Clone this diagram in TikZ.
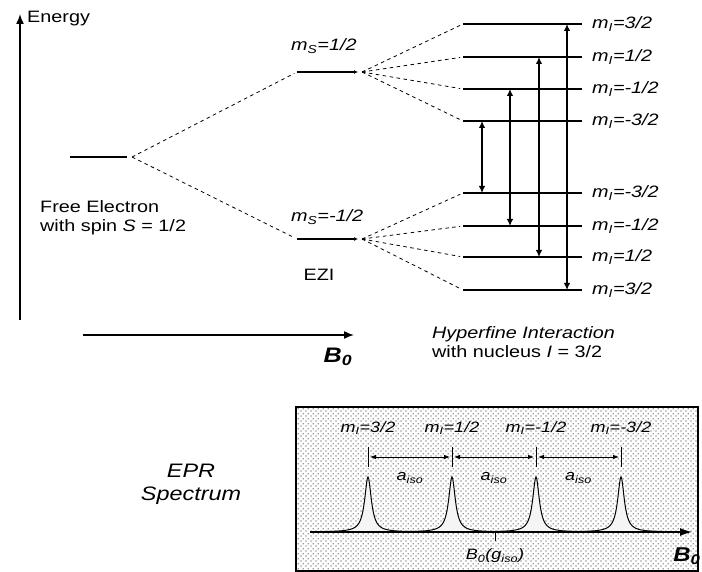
\documentclass[tikz,border=0pt]{standalone}
\usepackage{fontspec}
\setmainfont{Liberation Sans}[FakeStretch=1.2]
\usetikzlibrary{arrows.meta,patterns.meta,positioning}
\newcommand{\mI}[1]{\textit{m\textsubscript{I}=#1}}
\newcommand{\mS}[1]{\textit{m\textsubscript{S}=#1}}
\newcommand{\aiso}{\textit{a\textsubscript{iso}}}

\tikzdeclarepattern{
  name=stipple,
  type=uncolored,
  bounding box={(0pt,0pt) and (5pt,5pt)},
  tile size={(5pt,5pt)},
  code={
    \pgfpathcircle{\pgfqpoint{1.25pt}{1.25pt}}{0.75pt}
    \pgfpathcircle{\pgfqpoint{3.75pt}{3.75pt}}{0.75pt}
    \pgfusepath{fill}
  }
}

\begin{document}
\begin{tikzpicture}[x=1pt,y=-1pt,
  txt/.style={font=\fontsize{16.5}{19}\selectfont,inner sep=0pt},
  small/.style={font=\fontsize{15}{17}\selectfont,inner sep=0pt},
  level/.style={line width=1.5pt},
  fan/.style={line width=0.8pt,dash pattern=on 3.5pt off 3.5pt,shorten >=3pt},
  trans/.style={line width=1.3pt,
    {Latex[length=7pt,width=6.5pt]}-{Latex[length=7pt,width=6.5pt]}},
  axis/.style={line width=1.5pt,-{Latex[length=10pt,width=8pt]}},
  peak/.style={line width=1pt,fill=black!4},
  spacing/.style={line width=0.8pt,shorten <=2pt,shorten >=2pt,
    {Latex[length=6pt,width=4.5pt]}-{Latex[length=6pt,width=4.5pt]}},
  specbox/.style={draw,line width=1.2pt,preaction={fill=white},
    pattern=stipple,pattern color=black!80,minimum width=402pt,
    minimum height=164pt,inner sep=0pt}
]
\useasboundingbox (0,0) rectangle (702,572);

% energy and field axes
\coordinate (E0) at (20,320);
\coordinate (E1) at (20,14);
\draw[axis] (E0) -- (E1);
\node[txt,anchor=west] (energy) at (27,19) {Energy};
\coordinate (B0s) at (83,335);
\coordinate (B0e) at (354,335);
\draw[axis] (B0s) -- (B0e);
\node[font=\fontsize{21}{23}\selectfont\bfseries\itshape] (bzero) at (338,357)
  {B\textsubscript{0}};

% free electron
\coordinate (fe0) at (70,157);
\coordinate (fe1) at (127,157);
\coordinate (feR) at (132,157);
\draw[level] (fe0) -- (fe1);
\node[txt,align=left,anchor=west] (free) at (40,218)
  {Free Electron\\with spin \textit{S} = 1/2};

% electron Zeeman levels
\coordinate (up0) at (297,72);
\coordinate (up1) at (358,72);
\coordinate (upf) at (362,72);
\coordinate (dn0) at (297,239);
\coordinate (dn1) at (358,239);
\coordinate (dnf) at (362,239);
\draw[fan] (feR) -- (up0);
\draw[fan] (feR) -- (dn0);
\draw[line width=1.1pt,-{Latex[length=4pt,width=4pt]}] (up0) -- (up1);
\draw[line width=1.1pt,-{Latex[length=4pt,width=4pt]}] (dn0) -- (dn1);
\node[txt,anchor=west] (msup) at (291,46) {\mS{1/2}};
\node[txt,anchor=west] (msdn) at (291,217) {\mS{-1/2}};
\node[txt] (ezi) at (319,275) {EZI};

% hyperfine levels
\foreach \i/\y/\m in {1/24/{3/2},2/57/{1/2},3/89/{-1/2},4/121/{-3/2}}{
  \coordinate (hu\i) at (463,\y);
  \coordinate (hur\i) at (582,\y);
  \draw[level] (hu\i) -- (hur\i);
  \draw[fan] (upf) -- (hu\i);
  \node[txt,anchor=west,right=10pt of hur\i] (lu\i) {\mI{\m}};
}
\foreach \i/\y/\m in {1/193/{-3/2},2/226/{-1/2},3/257/{1/2},4/290/{3/2}}{
  \coordinate (hd\i) at (463,\y);
  \coordinate (hdr\i) at (582,\y);
  \draw[level] (hd\i) -- (hdr\i);
  \draw[fan] (dnf) -- (hd\i);
  \node[txt,anchor=west,right=10pt of hdr\i] (ld\i) {\mI{\m}};
}

% allowed transitions
\foreach \x/\a/\b in {482/4/1,510/3/2,539/2/3,567/1/4}
  \draw[trans] (\x,0 |- hu\a) -- (\x,0 |- hd\b);

\node[txt,align=left,anchor=west] (hfi) at (432,342)
  {\textit{Hyperfine Interaction}\\with nucleus \textit{I} = 3/2};

% EPR spectrum
\node[txt,font=\fontsize{19.5}{23}\selectfont\itshape,align=center] (epr)
  at (191,484) {EPR\\Spectrum};
\node[specbox] (spec) at (497,489) {};
\coordinate (bl0) at (310,532);
\coordinate (bl1) at (692,532);
\foreach \p [count=\k] in {368,452,536,621}{
  \filldraw[peak,shift={(\p,532)}]
    plot[domain=-42:42,samples=121] (\x,{-55*16/(16+\x*\x)});
  \coordinate (pk\k) at (\p,457);
  \draw[line width=0.8pt] (\p,447) -- (\p,467);
}
\draw[line width=1.2pt,-{Latex[length=12pt,width=8pt]}] (bl0) -- (bl1);
\foreach \p/\m in {368/{3/2},452/{1/2},536/{-1/2},621/{-3/2}}
  \node[small] at (\p,428) {\mI{\m}};
\draw[spacing] (pk1) -- node[small,below=15pt] (a1) {\aiso} (pk2);
\draw[spacing] (pk2) -- node[small,below=15pt] (a2) {\aiso} (pk3);
\draw[spacing] (pk3) -- node[small,below=15pt] (a3) {\aiso} (pk4);
\coordinate (giso) at (495,532);
\draw[line width=0.8pt] (giso) -- ++(0,9);
\node[small,font=\fontsize{15}{17}\selectfont\itshape] (glabel) at (495,556)
  {B\textsubscript{0}(g\textsubscript{iso})};
\node[font=\fontsize{20}{22}\selectfont\bfseries\itshape] (bzero2) at (687,556)
  {B\textsubscript{0}};
\end{tikzpicture}
\end{document}
